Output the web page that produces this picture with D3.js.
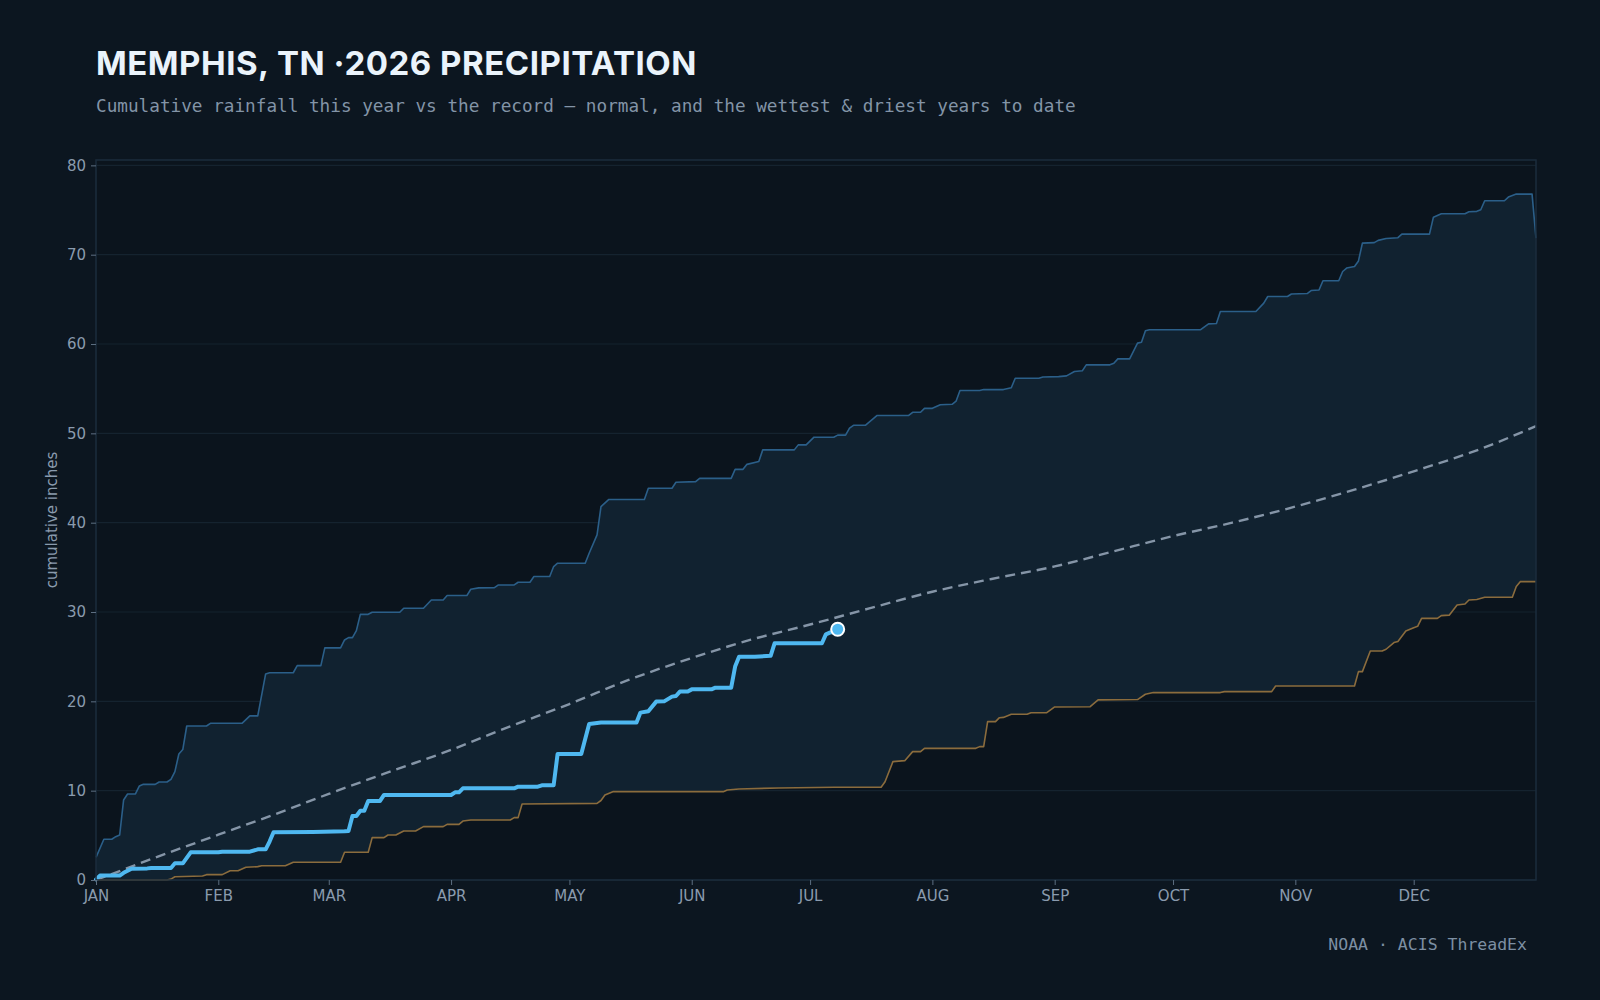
<!DOCTYPE html>
<html>
<head>
<meta charset="utf-8">
<script src="https://cdn.jsdelivr.net/npm/d3@7"></script>
<style>
  html, body { margin: 0; padding: 0; background: #0c1620; }
  svg { display: block; }
</style>
</head>
<body>
<svg id="chart" width="1600" height="1000"></svg>
<script>
// ---------- DATA (day of year index, cumulative inches) ----------
const monthStarts = [0, 31, 59, 90, 120, 151, 181, 212, 243, 273, 304, 334];
const monthLabels = ["JAN","FEB","MAR","APR","MAY","JUN","JUL","AUG","SEP","OCT","NOV","DEC"];
const yTicks = [0, 10, 20, 30, 40, 50, 60, 70, 80];

const wettest = [
  [0,2.54],[2,4.56],[4,4.56],[5,4.85],[6,5.04],[7,8.96],[8,9.63],[10,9.63],[11,10.53],[12,10.71],
  [15,10.71],[16,10.97],[18,10.97],[19,11.27],[20,12.14],[21,14.1],[22,14.6],[23,17.24],[28,17.24],
  [29,17.54],[37,17.54],[39,18.37],[41,18.37],[43,23.07],[44,23.2],[50,23.2],[51,24.0],[57,24.0],
  [58,25.98],[62,25.98],[63,26.87],[64,27.13],[65,27.13],[66,27.92],[67,29.74],[69,29.74],[70,29.97],
  [77,29.97],[78,30.42],[83,30.42],[85,31.35],[88,31.35],[89,31.84],[94,31.84],[95,32.55],[97,32.7],
  [101,32.73],[102,33.03],[106,33.03],[107,33.33],[110,33.33],[111,33.97],[115,33.97],[116,35.09],
  [117,35.46],[124,35.46],[125,36.58],[127,38.63],[128,41.8],[130,42.6],[139,42.6],[140,43.86],
  [146,43.86],[147,44.52],[152,44.6],[153,44.96],[161,44.96],[162,45.97],[164,45.97],[165,46.53],
  [168,46.84],[169,48.15],[177,48.15],[178,48.71],[180,48.71],[182,49.57],[187,49.57],[188,49.8],
  [190,49.8],[191,50.58],[192,50.9],[195,50.9],[198,52.0],[206,52.0],[207,52.36],[209,52.36],
  [210,52.8],[212,52.8],[214,53.2],[217,53.25],[218,53.6],[219,54.8],[224,54.8],[225,54.9],[230,54.9],
  [232,55.1],[233,56.17],[239,56.17],[240,56.3],[244,56.35],[246,56.43],[248,56.92],[250,57.0],
  [251,57.67],[257,57.67],[258,57.85],[259,58.34],[262,58.34],[264,60.1],[265,60.2],[266,61.48],
  [267,61.6],[280,61.6],[282,62.26],[284,62.3],[285,63.64],[294,63.64],[296,64.58],[297,65.32],
  [302,65.32],[303,65.6],[307,65.65],[308,65.99],[310,66.05],[311,67.08],[315,67.08],[316,68.12],
  [317,68.5],[319,68.68],[320,69.3],[321,71.3],[324,71.35],[325,71.6],[327,71.82],[330,71.9],
  [331,72.3],[338,72.3],[339,74.2],[341,74.58],[347,74.58],[348,74.8],[350,74.85],[351,75.03],
  [352,76.04],[357,76.04],[358,76.45],[360,76.78],[364,76.78],[365,71.85]
];

const driest = [
  [0,0],[18,0],[19,0.1],[20,0.37],[27,0.45],[28,0.6],[32,0.6],[34,1.04],[36,1.04],[38,1.42],[41,1.5],
  [42,1.6],[48,1.6],[50,1.98],[62,1.98],[63,3.1],[69,3.1],[70,4.74],[73,4.74],[74,5.04],[76,5.04],
  [78,5.49],[81,5.49],[83,5.97],[88,5.97],[89,6.23],[92,6.23],[93,6.6],[95,6.72],[105,6.72],
  [106,6.98],[107,6.98],[108,8.51],[127,8.58],[128,8.9],[129,9.52],[131,9.89],[159,9.89],[160,10.08],
  [163,10.19],[173,10.3],[187,10.38],[199,10.38],[200,11.0],[202,13.25],[205,13.36],[207,14.37],
  [209,14.37],[210,14.74],[223,14.74],[224,14.93],[225,14.93],[226,17.73],[228,17.73],[229,18.17],
  [230,18.2],[232,18.55],[236,18.55],[237,18.73],[241,18.73],[243,19.37],[252,19.4],[254,20.16],
  [264,20.2],[266,20.79],[268,20.98],[285,20.98],[286,21.09],[298,21.09],[299,21.72],[319,21.72],
  [320,23.33],[321,23.33],[323,25.64],[326,25.64],[327,25.83],[329,26.58],[330,26.7],[332,27.88],
  [334,28.25],[335,28.4],[336,29.29],[340,29.29],[341,29.59],[343,29.65],[345,30.79],[347,30.9],
  [348,31.35],[350,31.4],[352,31.65],[359,31.65],[360,32.85],[361,33.4],[365,33.4]
];

const normal = [
  [0,0],[15,2.5],[31,5.07],[45,7.3],[59,9.64],[75,12.2],[90,14.56],[105,17.2],[120,19.7],
  [135,22.4],[151,24.85],[166,26.9],[181,28.6],[196,30.4],[212,32.27],[227,33.7],[243,35.1],
  [258,36.8],[273,38.5],[288,40.0],[304,41.8],[319,43.7],[334,45.75],[350,48.1],[365,50.8]
];

const thisYear = [
  [0,0.07],[1,0.49],[6,0.49],[7,0.8],[9,1.27],[13,1.3],[14,1.35],[19,1.35],[20,1.87],[22,1.87],
  [24,3.1],[31,3.1],[32,3.17],[39,3.17],[41,3.43],[43,3.43],[44,4.3],[45,5.34],[55,5.38],[63,5.45],
  [64,5.49],[65,7.17],[66,7.17],[67,7.76],[68,7.76],[69,8.85],[72,8.85],[73,9.52],[90,9.52],
  [91,9.81],[92,9.81],[93,10.26],[106,10.26],[107,10.45],[112,10.45],[113,10.6],[116,10.6],
  [117,14.1],[123,14.1],[125,17.47],[128,17.62],[137,17.62],[138,18.74],[140,18.9],[142,19.97],
  [144,20.0],[146,20.53],[147,20.6],[148,21.09],[150,21.1],[151,21.34],[156,21.34],[157,21.53],
  [161,21.53],[162,23.89],[163,25.0],[167,25.0],[171,25.1],[172,26.5],[184,26.5],[185,27.5],
  [186,27.7],[187,27.75],[188,28.07]
];

// ---------- LAYOUT ----------
const svg = d3.select("#chart");
const plot = { left: 96, right: 1536, top: 160, bottom: 880 };

const x = d3.scaleLinear().domain([0, 365]).range([plot.left, plot.right]);
const y = d3.scaleLinear().domain([0, 80.6]).range([plot.bottom, plot.top]);

svg.append("rect").attr("width", 1600).attr("height", 1000).attr("fill", "#0c1620");
svg.append("rect")
  .attr("x", plot.left).attr("y", plot.top)
  .attr("width", plot.right - plot.left).attr("height", plot.bottom - plot.top)
  .attr("fill", "#0b141d");

// grid
svg.append("g").selectAll("line").data(yTicks).join("line")
  .attr("x1", plot.left).attr("x2", plot.right)
  .attr("y1", d => y(d)).attr("y2", d => y(d))
  .attr("stroke", "#15232f").attr("stroke-width", 1.2);

const line = d3.line().x(d => x(d[0])).y(d => y(d[1]));

// band between driest and wettest
svg.append("path")
  .attr("d", line(wettest.concat(driest.slice().reverse())) + "Z")
  .attr("fill", "#112230");

svg.append("path").attr("d", line(wettest))
  .attr("fill", "none").attr("stroke", "#2b5f89").attr("stroke-width", 1.6)
  .attr("stroke-linejoin", "round");

svg.append("path").attr("d", line(driest))
  .attr("fill", "none").attr("stroke", "#8b6c3d").attr("stroke-width", 1.6)
  .attr("stroke-linejoin", "round");

const normalLine = d3.line().x(d => x(d[0])).y(d => y(d[1])).curve(d3.curveMonotoneX);
svg.append("path").attr("d", normalLine(normal))
  .attr("fill", "none").attr("stroke", "#8595a7").attr("stroke-width", 2.4)
  .attr("stroke-dasharray", "10,6");

svg.append("path").attr("d", line(thisYear))
  .attr("fill", "none").attr("stroke", "#4fb8f0").attr("stroke-width", 4)
  .attr("stroke-linejoin", "round").attr("stroke-linecap", "round");

const last = thisYear[thisYear.length - 1];
svg.append("circle")
  .attr("cx", x(last[0])).attr("cy", y(last[1])).attr("r", 6.5)
  .attr("fill", "#4fb8f0").attr("stroke", "#ffffff").attr("stroke-width", 2);

// frame
svg.append("rect")
  .attr("x", plot.left).attr("y", plot.top)
  .attr("width", plot.right - plot.left).attr("height", plot.bottom - plot.top)
  .attr("fill", "none").attr("stroke", "#1b2c3c").attr("stroke-width", 1.5);

// axes
const xAxis = svg.append("g").attr("transform", `translate(0,${plot.bottom})`)
  .call(d3.axisBottom(x).tickValues(monthStarts)
    .tickFormat((d, i) => monthLabels[i]).tickSize(5).tickPadding(5));
const yAxis = svg.append("g").attr("transform", `translate(${plot.left},0)`)
  .call(d3.axisLeft(y).tickValues(yTicks).tickSize(5).tickPadding(5));
[xAxis, yAxis].forEach(g => {
  g.select(".domain").remove();
  g.selectAll(".tick line").attr("stroke", "#5d6f82");
  g.selectAll(".tick text").attr("fill", "#8a9bae")
    .style("font-family", "'DejaVu Sans', sans-serif").style("font-size", "15px");
});

svg.append("text")
  .attr("transform", `translate(57,${(plot.top + plot.bottom) / 2}) rotate(-90)`)
  .attr("text-anchor", "middle")
  .attr("fill", "#8a9bae")
  .style("font-family", "'DejaVu Sans', sans-serif").style("font-size", "15px")
  .text("cumulative inches");

// titles
const title = svg.append("text")
  .attr("x", 96).attr("y", 75)
  .attr("fill", "#eaf3fb")
  .style("font-family", "Inter, 'Noto Sans', sans-serif")
  .style("font-weight", "700").style("font-size", "33px")
  .text("MEMPHIS, TN ·2026 PRECIPITATION");
const tw = title.node().getComputedTextLength();
const nChars = title.text().length;
title.style("letter-spacing", ((601 - tw) / nChars) + "px");

svg.append("text")
  .attr("x", 96).attr("y", 112)
  .attr("fill", "#8394a7")
  .style("font-family", "'DejaVu Sans Mono', monospace").style("font-size", "17.7px")
  .text("Cumulative rainfall this year vs the record — normal, and the wettest & driest years to date");

svg.append("text")
  .attr("x", 1527).attr("y", 950).attr("text-anchor", "end")
  .attr("fill", "#7d8fa3")
  .style("font-family", "'DejaVu Sans Mono', monospace").style("font-size", "16.5px")
  .text("NOAA · ACIS ThreadEx");
</script>
</body>
</html>
